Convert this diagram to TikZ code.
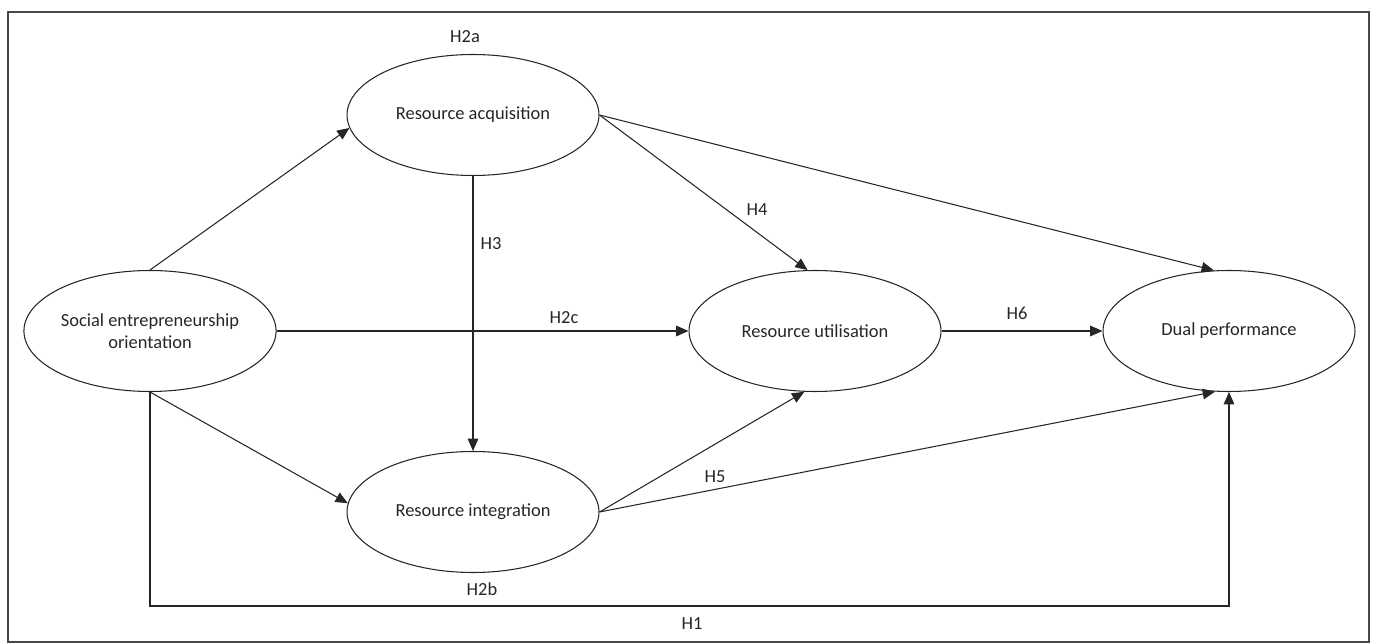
\documentclass[tikz,border=0pt]{standalone}
\usepackage{fontspec}
\setmainfont{Carlito}
\usetikzlibrary{shapes.geometric,arrows.meta}
\definecolor{inkgray}{HTML}{262626}
\begin{document}
\begin{tikzpicture}[x=0.02cm,y=-0.02cm,
  construct/.style={draw=inkgray, ellipse, line width=0.6pt, minimum width=5.04cm, minimum height=2.42cm, inner sep=0pt, align=center, text=inkgray, font=\fontsize{10.5}{12.5}\selectfont},
  hyp/.style={text=inkgray, inner sep=1pt, font=\fontsize{10.5}{12.5}\selectfont},
  link/.style={draw=inkgray, line width=0.6pt, -{Triangle[length=7pt,width=6pt]}}]
\useasboundingbox (0,0) rectangle (1375,644);
\draw[draw=inkgray!85, line width=0.7pt] (8,12) rectangle (1369,642);

\node[construct] (seo) at (150,331) {Social entrepreneurship\\orientation};
\node[construct] (acq) at (473,115) {Resource acquisition};
\node[construct] (integ) at (473,512) {Resource integration};
\node[construct] (util) at (815,331) {Resource utilisation};
\node[construct] (dual) at (1229,331) {Dual performance};

\node[hyp] (h2a) at (465,37) {H2a};
\node[hyp] (h3) at (491,244) {H3};
\node[hyp] (h4) at (757,210) {H4};
\node[hyp] (h2c) at (564,318) {H2c};
\node[hyp] (h6) at (1017,313) {H6};
\node[hyp] (h5) at (715,477) {H5};
\node[hyp] (h2b) at (482,589) {H2b};
\node[hyp] (h1) at (692,624) {H1};

\coordinate (corner) at (1229,606);

\draw[link] (seo.north) -- (acq.186);
\draw[link] (seo.east) -- (util.west);
\draw[link] (seo.south) -- (integ.176);
\draw[link] (acq.south) -- (integ.north);
\draw[link] (acq.east) -- (util.97);
\draw[link] (acq.east) -- (dual.104);
\draw[link] (integ.east) -- (util.260);
\draw[link] (integ.east) -- (dual.257);
\draw[link] (util.east) -- (dual.west);
\draw[link] (seo.south) |- (corner) -- (dual.south);
\end{tikzpicture}
\end{document}
